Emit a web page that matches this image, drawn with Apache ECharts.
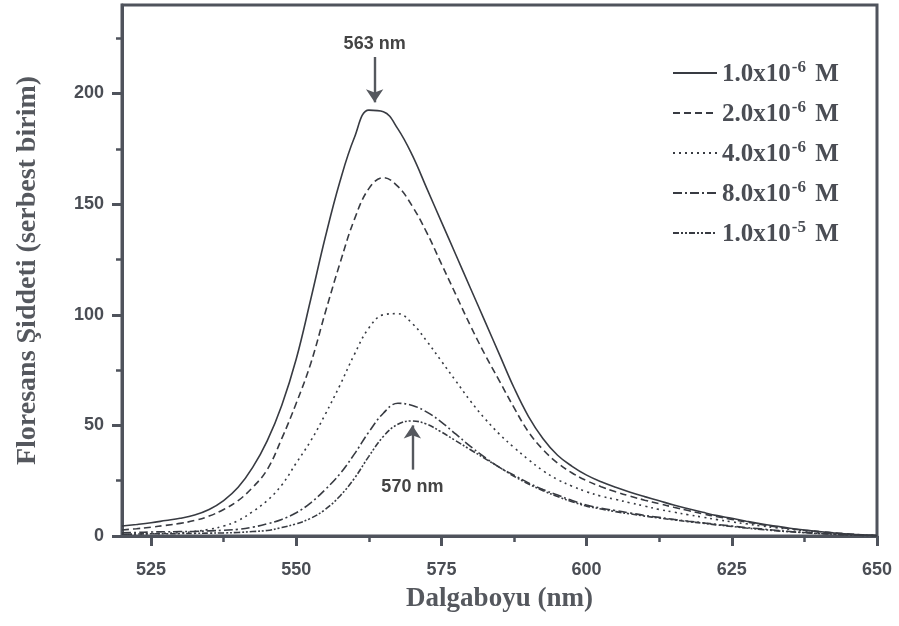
<!DOCTYPE html>
<html>
<head>
<meta charset="utf-8">
<script src="https://cdn.jsdelivr.net/npm/echarts@6/dist/echarts.min.js"></script>
<style>html,body{margin:0;padding:0;background:#fff}#c{width:899px;height:626px}</style>
</head>
<body>
<div id="c"></div>
<script>
// ---- data ----
const wavelengths = [520,522.5,525,527.5,530,532.5,535,537.5,540,542.5,545,547.5,550,552.5,555,557.5,560,562.5,565,567.5,570,572.5,575,577.5,580,582.5,585,587.5,590,592.5,595,597.5,600,602.5,605,607.5,610,612.5,615,617.5,620,622.5,625,627.5,630,632.5,635,637.5,640,642.5,645,647.5,650];
const s1 = [4.5,5.2,6,7,8,9.5,12,16,22,31,43,59,80,107,135,160,180,192.5,191.8,184,172,157,142,127,112,97,82,67,54,44,36.5,31.5,27.5,24.5,22,19.8,17.8,15.9,14,12.3,10.7,9.2,8,6.7,5.5,4.5,3.5,2.7,2,1.4,0.9,0.5,0.2];
const s2 = [2.7,3.3,4,4.8,5.7,7,9,12,16,22,30,44,60,78,101,123,143,157,162,158,149,137,123,109,95,82,70,58,47,39,33,28.5,25,22.3,20,18,16.2,14.6,13,11.5,10,8.7,7.5,6.3,5.2,4.2,3.3,2.6,2,1.4,1,0.5,0.2];
const s3 = [0.8,0.9,1,1.2,1.5,2,3,4.5,7,11,16,23,33,43,55,68,82,94,100,100.5,96,88,79,70,61,53,46,40,34.5,29.5,25.5,22.5,20,18,16.5,15,13.5,12,10.8,9.6,8.5,7.4,6.4,5.5,4.6,3.8,3,2.3,1.7,1.2,0.8,0.4,0.2];
const s4 = [1.5,1.6,1.8,1.9,2,2.1,2.3,2.6,3,4,5.5,7.5,10.5,15,21,28,37,47,55.5,60,59,56,51.5,46,40.5,35.5,31,27.5,24,21,18.5,16,14,12.6,11.5,10.4,9.3,8.4,7.5,6.7,6,5.2,4.5,3.8,3.2,2.6,2,1.6,1.2,0.9,0.6,0.3,0.1];
const s5 = [0.8,0.9,1,1,1.1,1.2,1.3,1.4,1.6,2,2.5,3.8,5.5,8,12,18,26,36,45,50.5,52,50.5,47,43,39,35,31,27,23.5,20.5,17.8,15.5,13.5,12.2,11,10,9,8.1,7.3,6.5,5.8,5,4.3,3.6,3,2.4,1.9,1.5,1.1,0.8,0.5,0.3,0.1];
const mantissas = ['1.0','2.0','4.0','8.0','1.0'];
const exponents = ['-6','-6','-6','-6','-5'];
const xMajorTicks = [525,550,575,600,625,650];
const xMinorTicks = [537.5,562.5,587.5,612.5,637.5];
const yMajorTicks = [0,50,100,150,200];
const yMinorTicks = [25,75,125,175,225];
const peak1 = {x: 563.5, label: '563 nm'};
const peak2 = {x: 570, label: '570 nm'};

// ---- chart ----
const ink = '#383b42';
const axisCol = '#4f535c';
const textCol = '#4a4d54';
const dashes = ['solid', [7,4], [2,4], [9,3,2,3], [6,2,2,2,2,2]];
const all = [s1,s2,s3,s4,s5];
const names = mantissas.map((m,i)=> m + 'x10^' + exponents[i] + ' M');

const series = all.map((vals,i)=>({
  name: names[i],
  type: 'line',
  data: wavelengths.map((w,j)=>[w, vals[j]]),
  smooth: 0.4,
  symbol: 'none',
  showSymbol: false,
  lineStyle: {color: ink, width: 1.6, type: dashes[i]},
  itemStyle: {color: ink},
  z: 5
}));

function arrowMark(x, y0, y1, label, ty) {
  return {
    markLine: {
      silent: true, animation: false,
      symbol: ['none','arrow'], symbolSize: 13,
      lineStyle: {color: '#55585e', width: 2.4, type: 'solid'},
      label: {show: false},
      data: [[{coord: [x, y0]}, {coord: [x, y1]}]]
    },
    markPoint: {
      silent: true, animation: false,
      symbol: 'rect', symbolSize: 1,
      itemStyle: {color: 'rgba(0,0,0,0)'},
      label: {show: true, position: 'inside', formatter: label, color: '#444',
        fontFamily: 'Liberation Sans, Arial, sans-serif', fontWeight: 'bold', fontSize: 18},
      data: [{coord: [x, ty]}]
    }
  };
}
Object.assign(series[0], arrowMark(peak1.x, 216.5, 196, peak1.label, 222.5));
Object.assign(series[4], arrowMark(peak2.x, 30, 50, peak2.label, 22));

const labelFont = {fontFamily: 'Liberation Sans, Arial, sans-serif', fontWeight: 'bold', fontSize: 18, color: textCol};
const titleFont = {fontFamily: 'Liberation Serif, Times New Roman, serif', fontWeight: 'bold', fontSize: 27, color: '#55585e'};

const option = {
  animation: false,
  backgroundColor: '#fff',
  grid: {left: 122, right: 22, top: 5, bottom: 90, show: true, borderColor: axisCol, borderWidth: 3, backgroundColor: 'transparent'},
  legend: {
    orient: 'vertical', left: 667, top: 54,
    itemWidth: 44, itemHeight: 14, itemGap: 12,
    itemStyle: {opacity: 0},
    data: names,
    formatter: function(n){
      const m = n.match(/^(.*)x10\^(\S+) M$/);
      return '{a|' + m[1] + 'x10}{b|' + m[2] + '}{a| M}';
    },
    textStyle: {
      rich: {
        a: {fontFamily: 'Liberation Serif, Times New Roman, serif', fontWeight: 'bold', fontSize: 25, color: textCol, lineHeight: 28, verticalAlign: 'bottom'},
        b: {fontFamily: 'Liberation Serif, Times New Roman, serif', fontWeight: 'bold', fontSize: 17, color: textCol, lineHeight: 28, verticalAlign: 'top', padding: [0, 3, 0, 1]}
      }
    }
  },
  xAxis: [{
    type: 'value', min: 520, max: 650,
    name: 'Dalgaboyu (nm)', nameLocation: 'middle', nameGap: 50, nameTextStyle: titleFont,
    axisLine: {show: true, onZero: false, lineStyle: {color: axisCol, width: 3}},
    axisTick: {show: true, customValues: xMajorTicks, length: 10, lineStyle: {color: axisCol, width: 3}},
    axisLabel: {show: true, customValues: xMajorTicks, margin: 25, ...labelFont},
    splitLine: {show: false}
  }, {
    type: 'value', min: 520, max: 650, position: 'bottom',
    axisLine: {show: false, onZero: false},
    axisTick: {show: true, customValues: xMinorTicks, length: 6, lineStyle: {color: axisCol, width: 2.5}},
    axisLabel: {show: false},
    splitLine: {show: false}
  }],
  yAxis: [{
    type: 'value', min: 0, max: 240,
    name: 'Floresans Şiddeti (serbest birim)', nameLocation: 'middle', nameGap: 80, nameTextStyle: Object.assign({}, titleFont, {fontSize: 28}),
    axisLine: {show: true, onZero: false, lineStyle: {color: axisCol, width: 3}},
    axisTick: {show: true, customValues: yMajorTicks, length: 10, lineStyle: {color: axisCol, width: 3}},
    axisLabel: {show: true, customValues: yMajorTicks, margin: 18, ...labelFont},
    splitLine: {show: false}
  }, {
    type: 'value', min: 0, max: 240, position: 'left',
    axisLine: {show: false, onZero: false},
    axisTick: {show: true, customValues: yMinorTicks, length: 6, lineStyle: {color: axisCol, width: 2.5}},
    axisLabel: {show: false},
    splitLine: {show: false}
  }],
  series: series
};

const chart = echarts.init(document.getElementById('c'), null, {renderer: 'canvas'});
chart.setOption(option);
</script>
</body>
</html>
